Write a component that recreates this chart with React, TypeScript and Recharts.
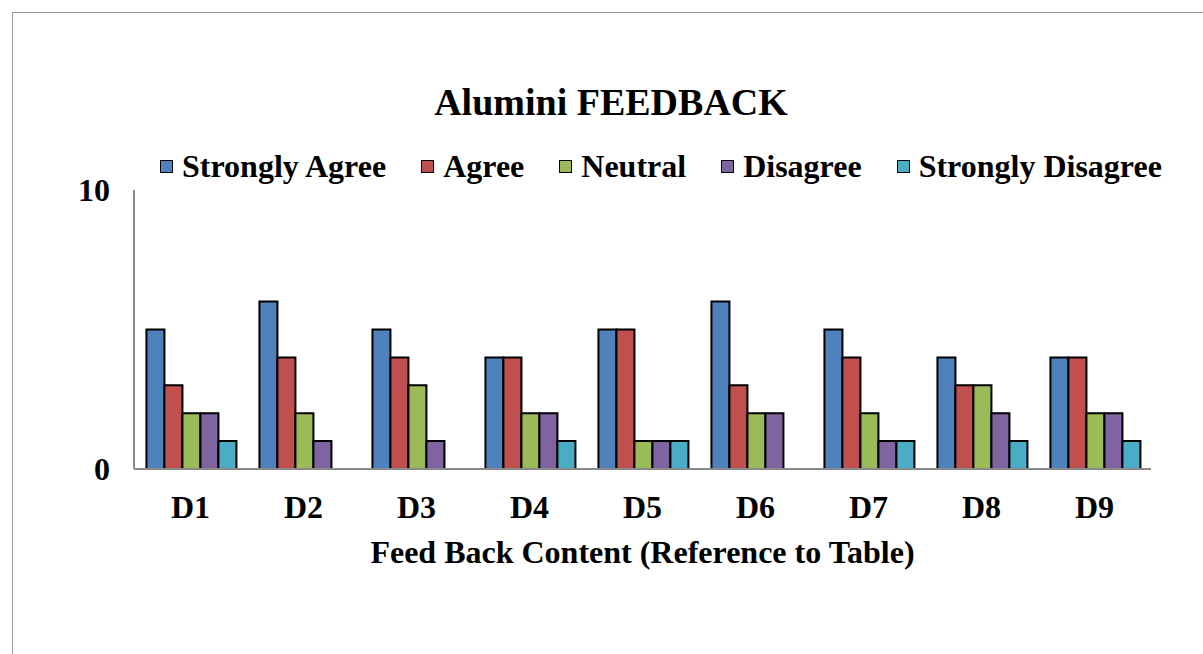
import React from "react";
import { BarChart, Bar, XAxis, YAxis, Label } from "recharts";

const categories = ["D1", "D2", "D3", "D4", "D5", "D6", "D7", "D8", "D9"];
const stronglyAgree = [5, 6, 5, 4, 5, 6, 5, 4, 4];
const agree = [3, 4, 4, 4, 5, 3, 4, 3, 4];
const neutral = [2, 2, 3, 2, 1, 2, 2, 3, 2];
const disagree = [2, 1, 1, 2, 1, 2, 1, 2, 2];
const stronglyDisagree = [1, 0, 0, 1, 1, 0, 1, 1, 1];
const yTicks = [0, 10];

const series = [
  { key: "sa", name: "Strongly Agree", values: stronglyAgree, color: "#4F81BD" },
  { key: "a", name: "Agree", values: agree, color: "#C0504D" },
  { key: "n", name: "Neutral", values: neutral, color: "#9BBB59" },
  { key: "d", name: "Disagree", values: disagree, color: "#8064A2" },
  { key: "sd", name: "Strongly Disagree", values: stronglyDisagree, color: "#4BACC6" },
];

const data = categories.map((c, i) => {
  const row: Record<string, any> = { name: c };
  series.forEach((s) => (row[s.key] = s.values[i]));
  return row;
});

const FONT = "'Liberation Serif', 'Times New Roman', serif";

export default function App() {
  return (
    <div
      style={{
        position: "absolute",
        left: 0,
        top: 0,
        width: 1203,
        height: 654,
        overflow: "hidden",
        background: "#fff",
        fontFamily: FONT,
      }}
    >
      <div
        style={{
          position: "absolute",
          left: 12,
          top: 12,
          width: 1300,
          height: 800,
          border: "1px solid #9a9a9a",
        }}
      />
      <div
        style={{
          position: "absolute",
          left: 311,
          top: 83,
          width: 600,
          textAlign: "center",
          fontSize: 38,
          lineHeight: "38px",
          fontWeight: "bold",
          color: "#000",
        }}
      >
        Alumini FEEDBACK
      </div>
      <div
        style={{
          position: "absolute",
          left: 160,
          top: 150,
          display: "flex",
          alignItems: "center",
          fontSize: 32,
          lineHeight: "32px",
          fontWeight: "bold",
          whiteSpace: "nowrap",
          color: "#000",
        }}
      >
        {series.map((s, i) => (
          <div
            key={s.key}
            style={{ display: "flex", alignItems: "center", marginRight: i < series.length - 1 ? 35 : 0 }}
          >
            <div
              style={{
                width: 11,
                height: 11,
                background: s.color,
                border: "1.5px solid #000",
                marginRight: 9,
              }}
            />
            <span>{s.name}</span>
          </div>
        ))}
      </div>
      <div style={{ position: "absolute", left: 0, top: 0 }}>
        <BarChart
          width={1203}
          height={654}
          data={data}
          margin={{ top: 190, right: 52, bottom: 85, left: 74 }}
          barCategoryGap="11%"
          barGap={0}
        >
          <XAxis
            dataKey="name"
            height={100}
            axisLine={{ stroke: "#8a8a8a", strokeWidth: 2 }}
            tickLine={false}
            tickSize={0}
            tickMargin={26}
            tick={{ fill: "#000", fontSize: 32, fontWeight: "bold", fontFamily: FONT }}
          >
            <Label
              value="Feed Back Content (Reference to Table)"
              position="insideBottom"
              offset={6}
              style={{ fill: "#000", fontSize: 32, fontWeight: "bold", fontFamily: FONT }}
            />
          </XAxis>
          <YAxis
            width={60}
            domain={[0, 10]}
            ticks={yTicks}
            axisLine={{ stroke: "#8a8a8a", strokeWidth: 2 }}
            tickLine={false}
            tickSize={0}
            tickMargin={24}
            tick={{ fill: "#000", fontSize: 32, fontWeight: "bold", fontFamily: FONT }}
          />
          {series.map((s) => (
            <Bar
              key={s.key}
              dataKey={s.key}
              name={s.name}
              fill={s.color}
              stroke="#000"
              strokeWidth={2}
              isAnimationActive={false}
            />
          ))}
        </BarChart>
      </div>
    </div>
  );
}
